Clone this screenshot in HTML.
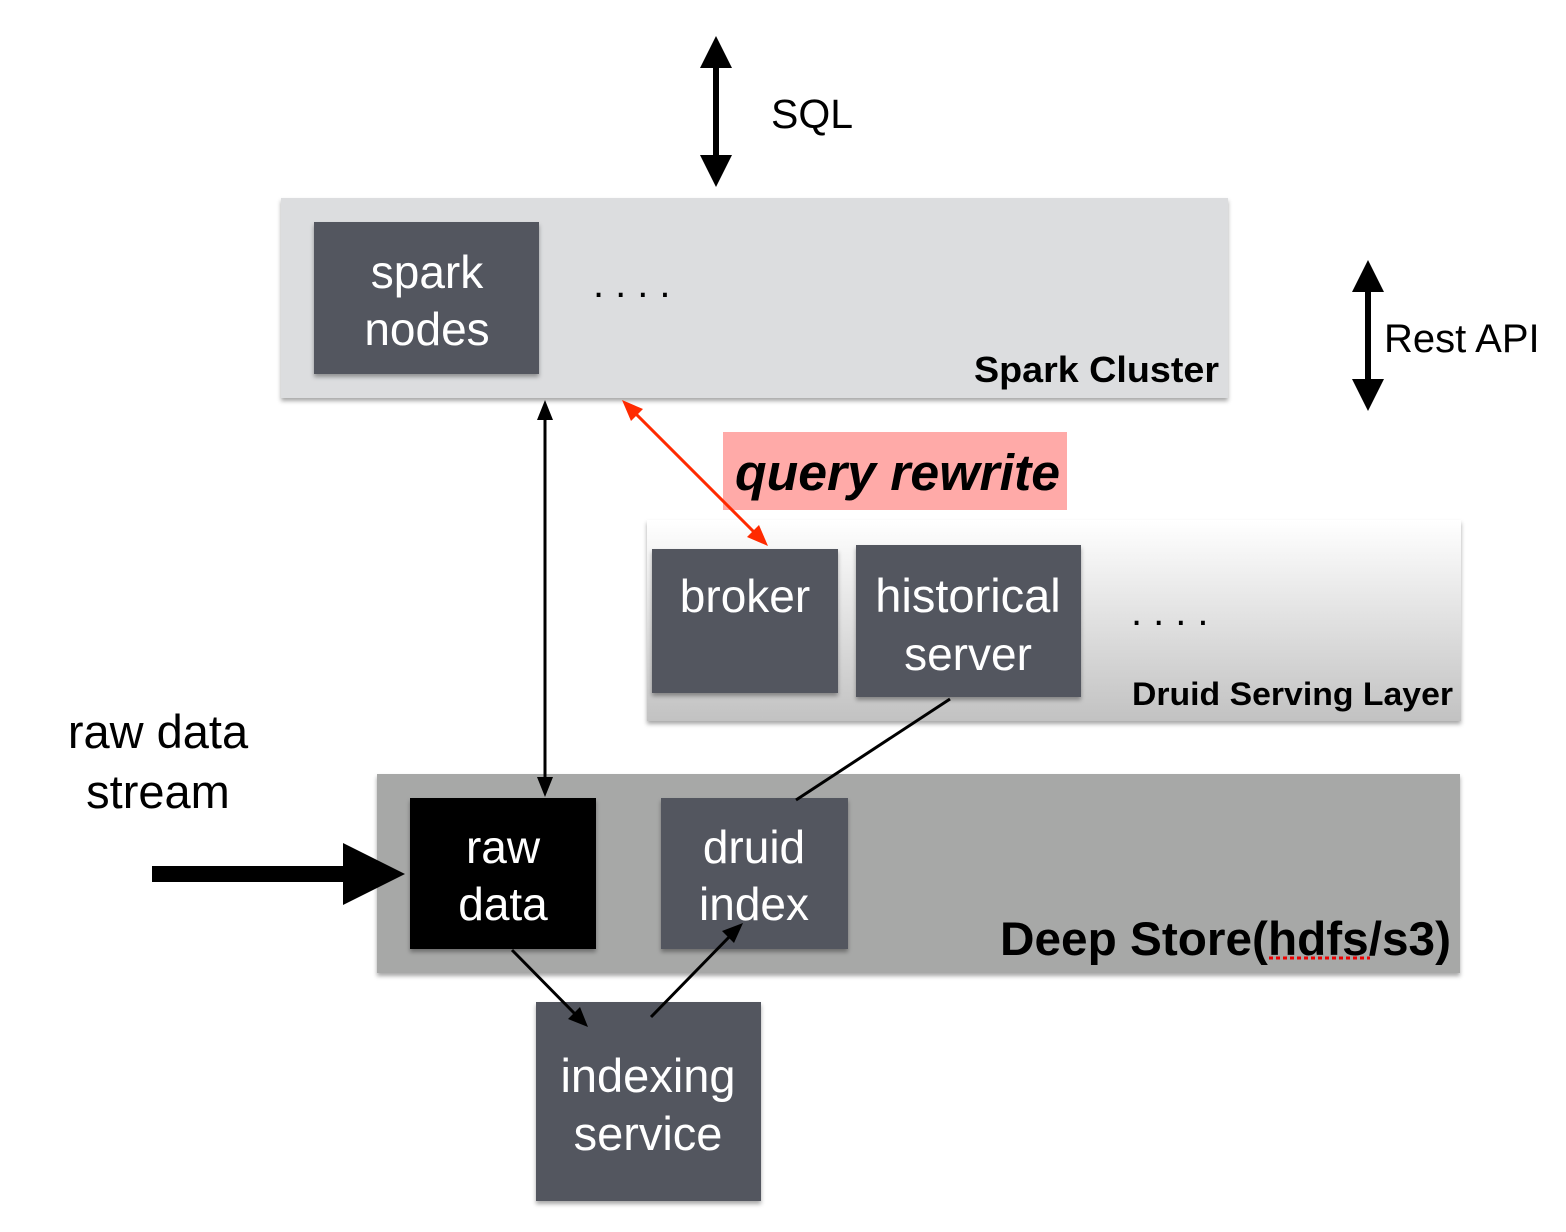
<!DOCTYPE html>
<html><head><meta charset="utf-8"><style>
html,body{margin:0;padding:0;background:#fff;}
svg{display:block;}
text{font-family:"Liberation Sans",sans-serif;}
</style></head><body>
<svg width="1566" height="1232" viewBox="0 0 1566 1232" xmlns="http://www.w3.org/2000/svg">
<defs>
<linearGradient id="dg" x1="0" y1="0" x2="0" y2="1">
<stop offset="0" stop-color="#ffffff"/><stop offset="1" stop-color="#c2c2c2"/>
</linearGradient>
<filter id="sh" x="-5%" y="-5%" width="110%" height="115%"><feDropShadow dx="0" dy="3" stdDeviation="2" flood-color="#000" flood-opacity="0.35"/></filter>
</defs>

<rect x="713" y="60" width="6" height="105" fill="#000"/>
<polygon points="716,36 700,68 732,68" fill="#000"/>
<polygon points="716,187 700,155 732,155" fill="#000"/>
<text x="771" y="128" font-size="41" fill="#000">SQL</text>

<rect x="1365" y="285" width="6" height="100" fill="#000"/>
<polygon points="1368,260 1352,292 1384,292" fill="#000"/>
<polygon points="1368,411 1352,379 1384,379" fill="#000"/>
<text x="1384" y="352" font-size="40" fill="#000">Rest API</text>

<rect x="281" y="198" width="947" height="200" fill="#dcdddf" filter="url(#sh)"/>
<rect x="314" y="222" width="225" height="152" fill="#53575e" filter="url(#sh)"/>
<text x="427" y="288" font-size="46" fill="#fff" text-anchor="middle">spark</text>
<text x="427" y="345" font-size="46" fill="#fff" text-anchor="middle">nodes</text>
<text x="593" y="297" font-size="40" fill="#000" letter-spacing="11">....</text>
<text x="974" y="382" font-size="36" font-weight="bold" fill="#000" textLength="245" lengthAdjust="spacingAndGlyphs">Spark Cluster</text>

<rect x="647" y="520" width="814" height="201" fill="url(#dg)" filter="url(#sh)"/>
<rect x="652" y="549" width="186" height="144" fill="#53575e" filter="url(#sh)"/>
<text x="745" y="612" font-size="46" fill="#fff" text-anchor="middle">broker</text>
<rect x="856" y="545" width="225" height="152" fill="#53575e" filter="url(#sh)"/>
<text x="968" y="612" font-size="47" fill="#fff" text-anchor="middle">historical</text>
<text x="968" y="670" font-size="46" fill="#fff" text-anchor="middle">server</text>
<text x="1131" y="625" font-size="40" fill="#000" letter-spacing="11">....</text>
<text x="1132" y="705" font-size="32" font-weight="bold" fill="#000" textLength="321" lengthAdjust="spacingAndGlyphs">Druid Serving Layer</text>

<rect x="723" y="432" width="344" height="78" fill="#ffaaa8"/>
<text x="735" y="490" font-size="51" font-weight="bold" font-style="italic" fill="#000" textLength="325" lengthAdjust="spacingAndGlyphs">query rewrite</text>
<line x1="632" y1="410" x2="758" y2="536" stroke="#ff2a00" stroke-width="3"/>
<polygon points="622,400 643,409 631,421" fill="#ff2a00"/>
<polygon points="768,546 747,537 759,525" fill="#ff2a00"/>

<rect x="377" y="774" width="1083" height="199" fill="#a7a8a7" filter="url(#sh)"/>
<rect x="410" y="798" width="186" height="151" fill="#000" filter="url(#sh)"/>
<text x="503" y="863" font-size="46" fill="#fff" text-anchor="middle">raw</text>
<text x="503" y="920" font-size="46" fill="#fff" text-anchor="middle">data</text>
<rect x="661" y="798" width="187" height="151" fill="#53575e" filter="url(#sh)"/>
<text x="754" y="863" font-size="46" fill="#fff" text-anchor="middle">druid</text>
<text x="754" y="920" font-size="46" fill="#fff" text-anchor="middle">index</text>
<text x="1000" y="955" font-size="47" font-weight="bold" fill="#000" textLength="451" lengthAdjust="spacingAndGlyphs">Deep Store(hdfs/s3)</text>
<line x1="1269" y1="958" x2="1370" y2="958" stroke="#e00" stroke-width="3" stroke-dasharray="4,3"/>

<rect x="536" y="1002" width="225" height="199" fill="#53575e" filter="url(#sh)"/>
<text x="648" y="1092" font-size="47" fill="#fff" text-anchor="middle">indexing</text>
<text x="648" y="1150" font-size="47" fill="#fff" text-anchor="middle">service</text>

<line x1="545" y1="415" x2="545" y2="782" stroke="#000" stroke-width="3"/>
<polygon points="545,400 537,420 553,420" fill="#000"/>
<polygon points="545,797 537,777 553,777" fill="#000"/>

<line x1="950" y1="699" x2="796" y2="800" stroke="#000" stroke-width="3"/>

<line x1="512" y1="950" x2="578" y2="1017" stroke="#000" stroke-width="3"/>
<polygon points="588,1027 568,1019 580,1007" fill="#000"/>
<line x1="651" y1="1017" x2="733" y2="933" stroke="#000" stroke-width="3"/>
<polygon points="743,923 734,943 722,931" fill="#000"/>

<rect x="152" y="866" width="195" height="16" fill="#000"/>
<polygon points="343,843 405,874 343,905" fill="#000"/>
<text x="158" y="748" font-size="47" fill="#000" text-anchor="middle">raw data</text>
<text x="158" y="808" font-size="47" fill="#000" text-anchor="middle">stream</text>
</svg>
</body></html>
